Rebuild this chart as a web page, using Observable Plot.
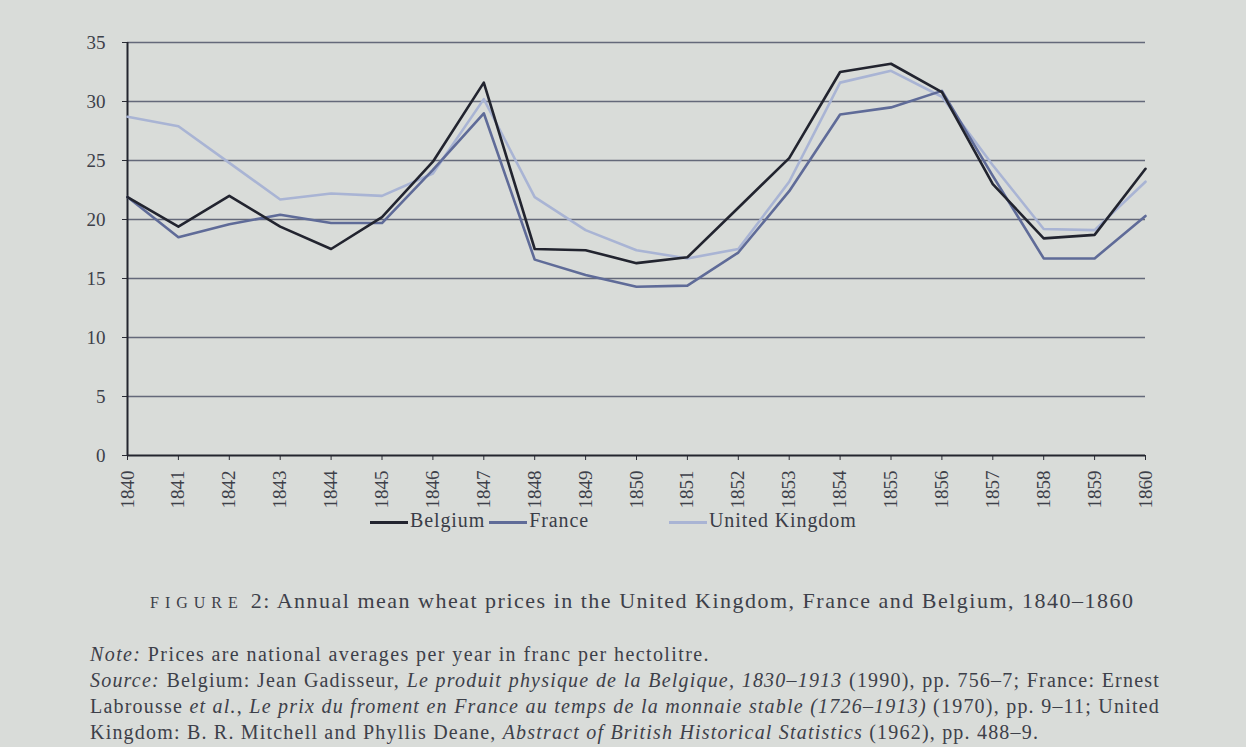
<!DOCTYPE html>
<html>
<head>
<meta charset="utf-8">
<script src="https://cdn.jsdelivr.net/npm/d3@7"></script>
<script src="https://cdn.jsdelivr.net/npm/@observablehq/plot@0.6"></script>
<style>
  html, body { margin: 0; padding: 0; background: #d9dcd9; }
  body { width: 1246px; height: 747px; overflow: hidden; font-family: "Liberation Serif", "DejaVu Serif", serif; color: #3a3d45; position: relative; }
  #chart { position: absolute; left: 0; top: 0; }
  #legend { position: absolute; top: 509px; left: 370px; font-size: 20px; letter-spacing: 0.9px; color: #3a3d48; white-space: nowrap; }
  #legend span.item { display: inline-block; }
  #legend span.sw { display: inline-block; width: 38px; height: 0; border-top-style: solid; border-top-width: 3px; vertical-align: middle; margin-right: 2px; }
  #caption { position: absolute; top: 588px; left: 150px; font-size: 22px; letter-spacing: 1.5px; color: #3d4049; white-space: nowrap; }
  #caption .fig { font-size: 16px; letter-spacing: 6px; }
  #notes { position: absolute; top: 641px; left: 90px; width: 1070px; font-size: 20px; line-height: 26px; letter-spacing: 1.2px; color: #3d4049; }
  #notes div { white-space: nowrap; }
  #notes div.first { letter-spacing: 1.4px; }
  #notes div.j { text-align: justify; text-align-last: justify; }
</style>
</head>
<body>
<div id="chart"></div>
<div id="legend"></div>
<div id="caption"><span class="fig">FIGURE</span> 2: Annual mean wheat prices in the United Kingdom, France and Belgium, 1840–1860</div>
<div id="notes">
<div class="first"><i>Note:</i> Prices are national averages per year in franc per hectolitre.</div>
<div class="j"><i>Source:</i> Belgium: Jean Gadisseur, <i>Le produit physique de la Belgique, 1830–1913</i> (1990), pp. 756–7; France: Ernest</div>
<div class="j">Labrousse <i>et al.</i>, <i>Le prix du froment en France au temps de la monnaie stable (1726–1913)</i> (1970), pp. 9–11; United</div>
<div>Kingdom: B. R. Mitchell and Phyllis Deane, <i>Abstract of British Historical Statistics</i> (1962), pp. 488–9.</div>
</div>
<script>
const years = [1840,1841,1842,1843,1844,1845,1846,1847,1848,1849,1850,1851,1852,1853,1854,1855,1856,1857,1858,1859,1860];
const belgium = [21.9,19.4,22.0,19.4,17.5,20.2,24.9,31.6,17.5,17.4,16.3,16.8,21.0,25.2,32.5,33.2,30.8,23.0,18.4,18.7,24.3];
const france  = [21.9,18.5,19.6,20.4,19.7,19.7,24.2,29.0,16.6,15.3,14.3,14.4,17.2,22.4,28.9,29.5,30.9,23.7,16.7,16.7,20.3];
const uk      = [28.7,27.9,24.8,21.7,22.2,22.0,23.9,30.2,21.9,19.1,17.4,16.7,17.5,23.2,31.6,32.6,30.4,24.6,19.2,19.1,23.2];
const seriesNames = ["Belgium", "France", "United Kingdom"];
const seriesColors = ["#22242f", "#5f6b98", "#a9b4d4"];
const yTicks = [0,5,10,15,20,25,30,35];

const data = [];
[uk, france, belgium].forEach((vals, k) => {
  const name = ["United Kingdom", "France", "Belgium"][k];
  vals.forEach((v, i) => data.push({year: years[i], value: v, series: name}));
});

const plot = Plot.plot({
  width: 1246,
  height: 520,
  marginLeft: 127,
  marginRight: 101,
  marginTop: 42,
  marginBottom: 65,
  style: {background: "transparent", fontFamily: "Liberation Serif, DejaVu Serif, serif", fontSize: "18px", color: "#3d4049"},
  x: {type: "linear", domain: [1840, 1860], label: null},
  y: {domain: [0, 35], label: null},
  color: {domain: seriesNames, range: seriesColors},
  marks: [
    Plot.ruleY(yTicks.filter(t => t > 0), {stroke: "#4f5568", strokeWidth: 1.3, strokeOpacity: 0.85}),
    Plot.axisX({ticks: years, tickFormat: d => String(d), tickRotate: -90, tickSize: 5, tickPadding: 10, fontSize: 19, stroke: "#2a2c35", color: "#3d4049", label: null}),
    Plot.axisY({ticks: yTicks, tickSize: 5, tickPadding: 17, fontSize: 19, stroke: "#2a2c35", color: "#3d4049", label: null}),
    Plot.ruleY([0], {stroke: "#23252e", strokeWidth: 2}),
    Plot.ruleX([1840], {stroke: "#23252e", strokeWidth: 2}),
    Plot.lineY(data, {x: "year", y: "value", z: "series", stroke: "series", strokeWidth: 2.6})
  ]
});
document.getElementById("chart").appendChild(plot);

const legend = document.getElementById("legend");
const gaps = [0, 4, 80];
seriesNames.forEach((n, i) => {
  const item = document.createElement("span");
  item.className = "item";
  item.style.marginLeft = gaps[i] + "px";
  const sw = document.createElement("span");
  sw.className = "sw";
  sw.style.borderTopColor = seriesColors[i];
  item.appendChild(sw);
  item.appendChild(document.createTextNode(n));
  legend.appendChild(item);
});
</script>
</body>
</html>
